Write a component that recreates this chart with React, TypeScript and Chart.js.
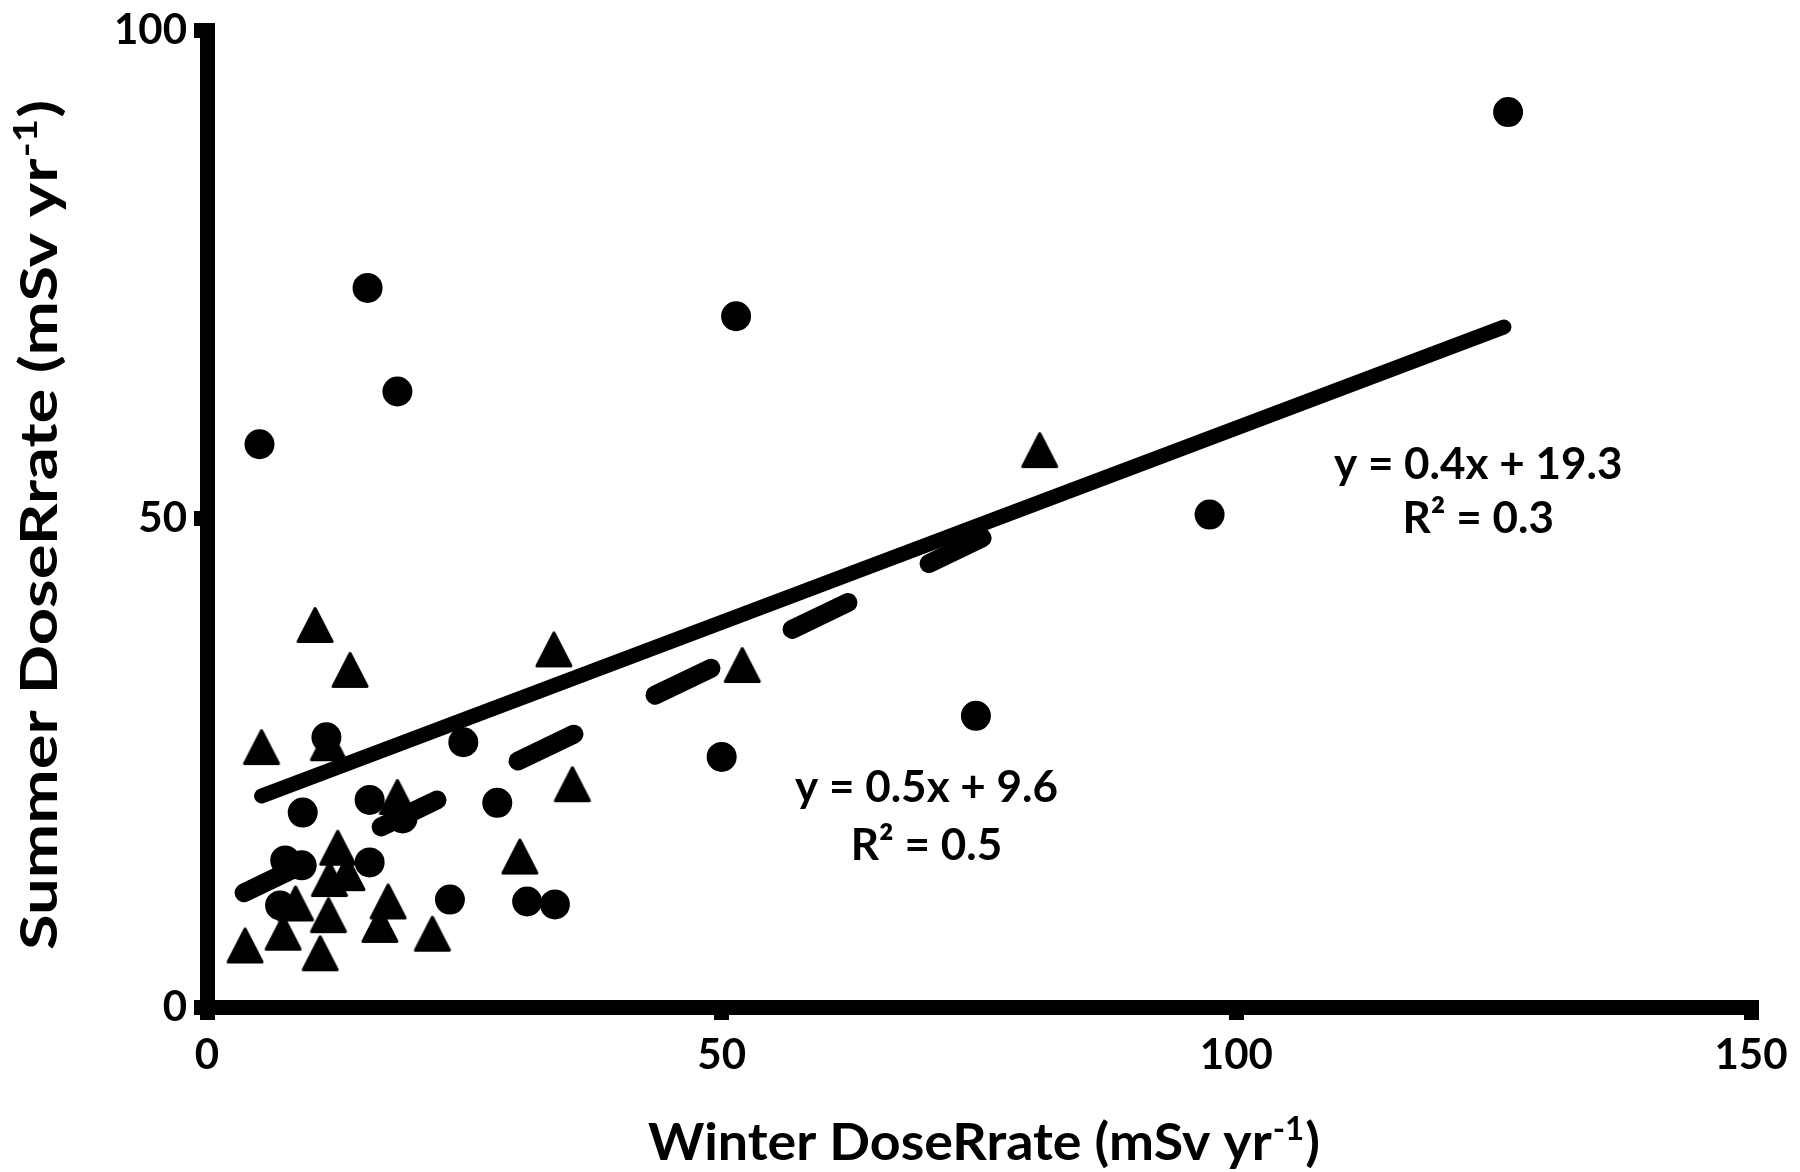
import React, { useEffect, useRef } from 'react';
import { Chart, registerables } from 'chart.js';

Chart.register(...registerables);

// ---- Data ----
const circleX = [126.4, 15.6, 51.4, 18.5, 5.1, 97.4, 74.7, 50.0, 24.9, 28.2, 15.8, 19.0, 9.3, 15.8, 23.6, 31.1, 33.8, 7.6, 9.2, 7.1, 11.6];
const circleY = [91.6, 73.6, 70.7, 63.0, 57.6, 50.4, 29.8, 25.6, 27.1, 20.9, 21.2, 19.3, 19.9, 14.8, 11.0, 10.8, 10.5, 15.0, 14.5, 10.4, 27.6];

const triangleX = [80.9, 10.5, 13.9, 33.7, 52.0, 5.3, 11.8, 35.5, 18.5, 30.4, 12.7, 11.9, 13.6, 8.6, 11.8, 17.6, 16.8, 7.4, 21.9, 3.7, 11.0];
const triangleY = [57.0, 39.1, 34.5, 36.6, 35.0, 26.6, 27.0, 22.8, 21.5, 15.4, 16.3, 13.1, 13.7, 10.6, 9.4, 10.8, 8.4, 7.6, 7.5, 6.3, 5.5];

// trend lines (end points)
const solidTrendX = [5.3, 126.0];
const solidTrendY = [21.6, 69.6];
const dashedTrendX = [3.6, 75.3];
const dashedTrendY = [11.7, 48.0];

const xTicks = [0, 50, 100, 150];
const yTicks = [0, 50, 100];

const xTitleMain = 'Winter DoseRrate (mSv yr';
const yTitleMain = 'Summer DoseRrate (mSv yr';
const titleSup = '-1';
const titleEnd = ')';

const eqTexts = ['y = 0.4x + 19.3', 'R\u00B2 = 0.3', 'y = 0.5x + 9.6', 'R\u00B2 = 0.5'];
// anchor (data space) of each equation label
const eqAnchorX = [123.5, 123.5, 69.9, 69.9];
const eqAnchorY = [55.5, 50.0, 22.4, 16.5];

const FONT = 'Lato';

function makeTriangle(): HTMLCanvasElement {
  const c = document.createElement('canvas');
  c.width = 40;
  c.height = 40;
  const ctx = c.getContext('2d') as CanvasRenderingContext2D;
  ctx.fillStyle = '#000';
  ctx.strokeStyle = '#000';
  ctx.lineWidth = 3;
  ctx.lineJoin = 'round';
  ctx.beginPath();
  ctx.moveTo(20, 3.5);
  ctx.lineTo(37, 36.5);
  ctx.lineTo(3, 36.5);
  ctx.closePath();
  ctx.fill();
  ctx.stroke();
  return c;
}

// draws "main" + superscript "-1" + ")" centred on (0,0) baseline, stretched along the text to targetLen
function drawTitle(ctx: CanvasRenderingContext2D, main: string, size: number, targetLen: number) {
  ctx.font = `bold ${size}px ${FONT}`;
  const wMain = ctx.measureText(main).width;
  const supSize = Math.round(size * 0.62);
  ctx.font = `bold ${supSize}px ${FONT}`;
  const wSup = ctx.measureText(titleSup).width;
  ctx.font = `bold ${size}px ${FONT}`;
  const wEnd = ctx.measureText(titleEnd).width;
  const total = wMain + wSup + wEnd + 2;
  ctx.scale(targetLen / total, 1);
  let x = -total / 2;
  ctx.textAlign = 'left';
  ctx.textBaseline = 'alphabetic';
  ctx.fillText(main, x, 0);
  x += wMain + 1;
  ctx.font = `bold ${supSize}px ${FONT}`;
  ctx.fillText(titleSup, x, -size * 0.38);
  x += wSup + 1;
  ctx.font = `bold ${size}px ${FONT}`;
  ctx.fillText(titleEnd, x, 0);
}

const textPlugin = {
  id: 'textPlugin',
  afterDraw(chart: any) {
    const ctx: CanvasRenderingContext2D = chart.ctx;
    const xs = chart.scales.x;
    const ys = chart.scales.y;
    ctx.save();
    ctx.fillStyle = '#000';
    // equations
    ctx.font = `bold 44px ${FONT}`;
    ctx.textAlign = 'center';
    ctx.textBaseline = 'middle';
    eqTexts.forEach((t, i) => {
      ctx.fillText(t, xs.getPixelForValue(eqAnchorX[i]), ys.getPixelForValue(eqAnchorY[i]));
    });
    // x title
    ctx.save();
    ctx.translate(984, 1160);
    drawTitle(ctx, xTitleMain, 52, 672);
    ctx.restore();
    // y title
    ctx.save();
    ctx.translate(57, 525);
    ctx.rotate(-Math.PI / 2);
    drawTitle(ctx, yTitleMain, 52, 850);
    ctx.restore();
    ctx.restore();
  },
};

export default function App() {
  const ref = useRef<HTMLCanvasElement | null>(null);

  useEffect(() => {
    let chart: Chart | null = null;
    let cancelled = false;
    const build = () => {
      if (cancelled || !ref.current) return;
      const tri = makeTriangle();
      const tickFont = { family: FONT, size: 42, weight: 'bold' as const };
      chart = new Chart(ref.current, {
        type: 'scatter',
        data: {
          datasets: [
            {
              label: 'circles',
              data: circleX.map((x, i) => ({ x, y: circleY[i] })),
              pointStyle: 'circle',
              pointRadius: 14,
              pointBorderWidth: 2,
              backgroundColor: '#000',
              borderColor: '#000',
            },
            {
              label: 'triangles',
              data: triangleX.map((x, i) => ({ x, y: triangleY[i] })),
              pointStyle: tri as any,
              pointRadius: 19,
              backgroundColor: '#000',
              borderColor: '#000',
            },
            {
              type: 'line' as const,
              label: 'solid trend',
              data: solidTrendX.map((x, i) => ({ x, y: solidTrendY[i] })),
              borderColor: '#000',
              borderWidth: 15,
              borderCapStyle: 'round',
              pointRadius: 0,
              showLine: true,
              fill: false,
              tension: 0,
            } as any,
            {
              type: 'line' as const,
              label: 'dashed trend',
              data: dashedTrendX.map((x, i) => ({ x, y: dashedTrendY[i] })),
              borderColor: '#000',
              borderWidth: 19,
              borderCapStyle: 'round',
              borderDash: [62, 90],
              pointRadius: 0,
              showLine: true,
              fill: false,
              tension: 0,
            } as any,
          ],
        },
        options: {
          responsive: false,
          animation: false,
          layout: { padding: { left: 0, top: 30, right: 49, bottom: 0 } },
          plugins: { legend: { display: false }, tooltip: { enabled: false } },
          scales: {
            x: {
              type: 'linear',
              min: 0,
              max: 150,
              afterBuildTicks: (s: any) => {
                s.ticks = xTicks.map((v) => ({ value: v }));
              },
              afterFit: (s: any) => {
                s.height = 165;
                s.paddingLeft = 0;
                s.paddingRight = 0;
              },
              ticks: { font: tickFont, color: '#000', padding: 10, maxRotation: 0 },
              grid: {
                display: true,
                drawOnChartArea: false,
                drawTicks: true,
                tickLength: 13,
                tickWidth: 15,
                lineWidth: 15,
                color: '#000',
              },
              border: { display: true, width: 15, color: '#000' },
            },
            y: {
              type: 'linear',
              min: 0,
              max: 100,
              afterBuildTicks: (s: any) => {
                s.ticks = yTicks.map((v) => ({ value: v }));
              },
              afterFit: (s: any) => {
                s.width = 207;
                s.paddingTop = 0;
                s.paddingBottom = 0;
              },
              ticks: { font: tickFont, color: '#000', padding: 7 },
              grid: {
                display: true,
                drawOnChartArea: false,
                drawTicks: true,
                tickLength: 13,
                tickWidth: 15,
                lineWidth: 15,
                color: '#000',
              },
              border: { display: true, width: 15, color: '#000' },
            },
          },
        } as any,
        plugins: [textPlugin],
      });
    };
    const fontsReady = (document as any).fonts
      ? Promise.all([
          (document as any).fonts.load(`bold 42px ${FONT}`),
          (document as any).fonts.load(`bold 26px ${FONT}`),
        ]).catch(() => null)
      : Promise.resolve(null);
    fontsReady.then(build);
    return () => {
      cancelled = true;
      if (chart) chart.destroy();
    };
  }, []);

  return (
    <div style={{ position: 'absolute', left: 0, top: 0, width: 1800, height: 1172, background: '#fff' }}>
      <canvas ref={ref} width={1800} height={1172} style={{ width: 1800, height: 1172, display: 'block' }} />
    </div>
  );
}
